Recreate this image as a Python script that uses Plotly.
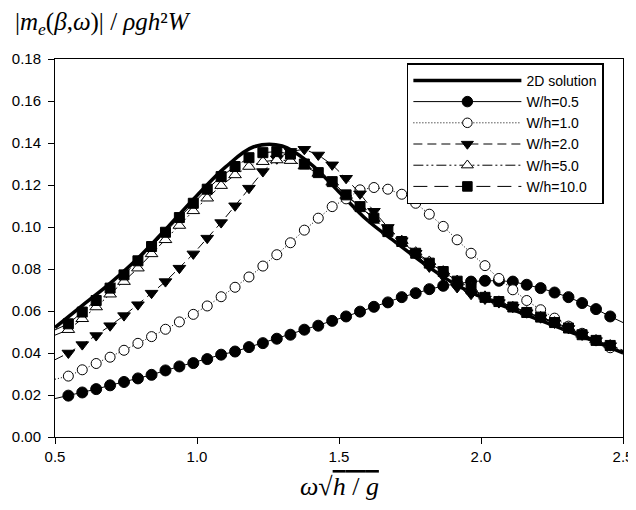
import plotly.graph_objects as go

# ---- data ----
x_2d = [0.5, 0.6, 0.7, 0.8, 0.9, 1.0, 1.1, 1.2, 1.3, 1.4, 1.5, 1.6, 1.7, 1.8, 1.9,
        2.0, 2.1, 2.2, 2.3, 2.4, 2.5]
y_2d = [0.0521, 0.0630, 0.0739, 0.0862, 0.1004, 0.1150, 0.1285, 0.1382, 0.1386, 0.1301,
        0.1167, 0.1032, 0.0927, 0.0825, 0.0735, 0.0667, 0.0613, 0.0560, 0.0508, 0.0455, 0.0400]

x_pts = [0.547, 0.596, 0.645, 0.694, 0.743, 0.792, 0.840, 0.889, 0.938, 0.987,
         1.036, 1.085, 1.134, 1.183, 1.232, 1.281, 1.329, 1.378, 1.427, 1.476,
         1.525, 1.574, 1.623, 1.672, 1.721, 1.770, 1.818, 1.867, 1.916, 1.965,
         2.014, 2.063, 2.112, 2.161, 2.210, 2.259, 2.308, 2.356, 2.405, 2.455]
x_ends = [0.5, 2.5]

wh05 = [0.0197, 0.0212, 0.0228, 0.0246, 0.0262, 0.0279, 0.0296, 0.0317, 0.0336, 0.0352,
        0.0371, 0.0392, 0.0407, 0.0428, 0.0447, 0.0468, 0.0487, 0.0511, 0.0530, 0.0553,
        0.0574, 0.0597, 0.0620, 0.0641, 0.0666, 0.0685, 0.0704, 0.0720, 0.0729, 0.0740,
        0.0744, 0.0744, 0.0740, 0.0725, 0.0709, 0.0688, 0.0666, 0.0638, 0.0609, 0.0574]
wh05_ends = [0.0183, 0.0545]

wh10_1 = [0.0290, 0.0320, 0.0350, 0.0380, 0.0413, 0.0446, 0.0478, 0.0513, 0.0548, 0.0584,
          0.0624, 0.0668, 0.0713, 0.0762, 0.0814, 0.0868, 0.0925, 0.0985, 0.1042, 0.1097,
          0.1134, 0.1177, 0.1188, 0.1180, 0.1156, 0.1113, 0.1061, 0.1003, 0.0939, 0.0875,
          0.0816, 0.0755, 0.0701, 0.0650, 0.0606, 0.0566, 0.0528, 0.0494, 0.0460, 0.0425]
wh10_1_ends = [0.0275, 0.0395]

wh20 = [0.0400, 0.0440, 0.0483, 0.0530, 0.0578, 0.0630, 0.0685, 0.0740, 0.0804, 0.0872,
        0.0947, 0.1021, 0.1101, 0.1185, 0.1264, 0.1325, 0.1360, 0.1370, 0.1343, 0.1296,
        0.1232, 0.1158, 0.1075, 0.0998, 0.0935, 0.0875, 0.0810, 0.0765, 0.0712, 0.0680,
        0.0657, 0.0640, 0.0618, 0.0592, 0.0568, 0.0543, 0.0517, 0.0486, 0.0459, 0.0435]
wh20_ends = [0.0368, 0.0410]

wh50 = [0.0511, 0.0563, 0.0619, 0.0680, 0.0740, 0.0804, 0.0872, 0.0939, 0.1007, 0.1077,
        0.1137, 0.1197, 0.1248, 0.1288, 0.1311, 0.1319, 0.1316, 0.1290, 0.1255, 0.1213,
        0.1150, 0.1095, 0.1040, 0.0980, 0.0935, 0.0880, 0.0836, 0.0790, 0.0745, 0.0708,
        0.0670, 0.0646, 0.0620, 0.0595, 0.0572, 0.0547, 0.0521, 0.0489, 0.0462, 0.0438]
wh50_ends = [0.0485, 0.0413]

wh100 = [0.0539, 0.0595, 0.0650, 0.0709, 0.0772, 0.0839, 0.0907, 0.0975, 0.1045, 0.1113,
         0.1180, 0.1240, 0.1288, 0.1330, 0.1354, 0.1359, 0.1347, 0.1300, 0.1259, 0.1216,
         0.1153, 0.1097, 0.1042, 0.0978, 0.0931, 0.0875, 0.0828, 0.0788, 0.0742, 0.0705,
         0.0665, 0.0645, 0.0619, 0.0593, 0.0571, 0.0545, 0.0519, 0.0487, 0.0460, 0.0436]
wh100_ends = [0.0510, 0.0412]

names = ["W/h=0.5", "W/h=1.0", "W/h=2.0", "W/h=5.0", "W/h=10.0"]
x_ticks = [0.5, 1.0, 1.5, 2.0, 2.5]
y_ticks = [0.00, 0.02, 0.04, 0.06, 0.08, 0.10, 0.12, 0.14, 0.16, 0.18]

# ---- figure ----
fig = go.Figure()
fig.add_trace(go.Scatter(x=x_2d, y=y_2d, mode="lines", name="2D solution",
                         line=dict(color="black", width=3.5, shape="spline")))

styles = [
    dict(dash="solid", symbol="circle", fill="black", size=11),
    dict(dash="1px,2px", symbol="circle", fill="white", size=10),
    dict(dash="9px,5px", symbol="triangle-down", fill="black", size=11),
    dict(dash="10px,3px,2px,3px,2px,3px", symbol="triangle-up", fill="white", size=11),
    dict(dash="14px,7px", symbol="square", fill="black", size=10),
]
series = [(wh05, wh05_ends), (wh10_1, wh10_1_ends), (wh20, wh20_ends),
          (wh50, wh50_ends), (wh100, wh100_ends)]

for name, (vals, ends), st in zip(names, series, styles):
    xs = [x_ends[0]] + x_pts + [x_ends[1]]
    ys = [ends[0]] + vals + [ends[1]]
    sizes = [0] + [st["size"]] * len(vals) + [0]
    fig.add_trace(go.Scatter(
        x=xs, y=ys, mode="lines+markers", name=name,
        line=dict(color="black", width=1, dash=st["dash"]),
        marker=dict(symbol=st["symbol"], size=sizes, color=st["fill"], opacity=1,
                    line=dict(color="black", width=1)),
    ))

axis_font = dict(family="Liberation Sans, Arial, sans-serif", size=15, color="black")
common = dict(ticks="outside", ticklen=6, tickcolor="black", showline=True,
              linecolor="black", linewidth=1, mirror=True, showgrid=False,
              zeroline=False, tickfont=axis_font, automargin=False)
fig.update_xaxes(range=[0.5, 2.5], tickvals=x_ticks,
                 ticktext=[f"{v:.1f}" for v in x_ticks], **common)
fig.update_yaxes(range=[0, 0.18], tickvals=y_ticks,
                 ticktext=[f"{v:.2f}" for v in y_ticks], ticklabelstandoff=4, **common)

serif = "Liberation Serif, Times New Roman, serif"
fig.add_annotation(
    xref="paper", yref="paper", x=-0.074, y=1.141, xanchor="left", yanchor="top",
    text="|<i>m</i><sub><i>e</i></sub>(<i>β</i>,<i>ω</i>)| / <i>ρgh</i>²<i>W</i>",
    showarrow=False, font=dict(family=serif, size=25, color="black"))
fig.add_annotation(
    xref="paper", yref="paper", x=0.5, y=-0.13, xanchor="center", yanchor="middle",
    text="<i>ω</i>√<span style='text-decoration:overline'><i>h</i> / <i>g</i></span>",
    showarrow=False, font=dict(family=serif, size=26, color="black"))

# page body has an 8px default margin; figure size/margins compensate for it
fig.update_layout(
    width=628, height=494,
    margin=dict(l=47, r=13, t=51, b=65),
    paper_bgcolor="white", plot_bgcolor="white",
    showlegend=True,
    legend=dict(x=0.6195, y=0.9886, xanchor="left", yanchor="top",
                bgcolor="white", bordercolor="black", borderwidth=1.5,
                font=dict(family="Liberation Sans, Arial, sans-serif", size=14, color="black"),
                itemwidth=108, tracegroupgap=0),
)

fig.write_html("out.html")
